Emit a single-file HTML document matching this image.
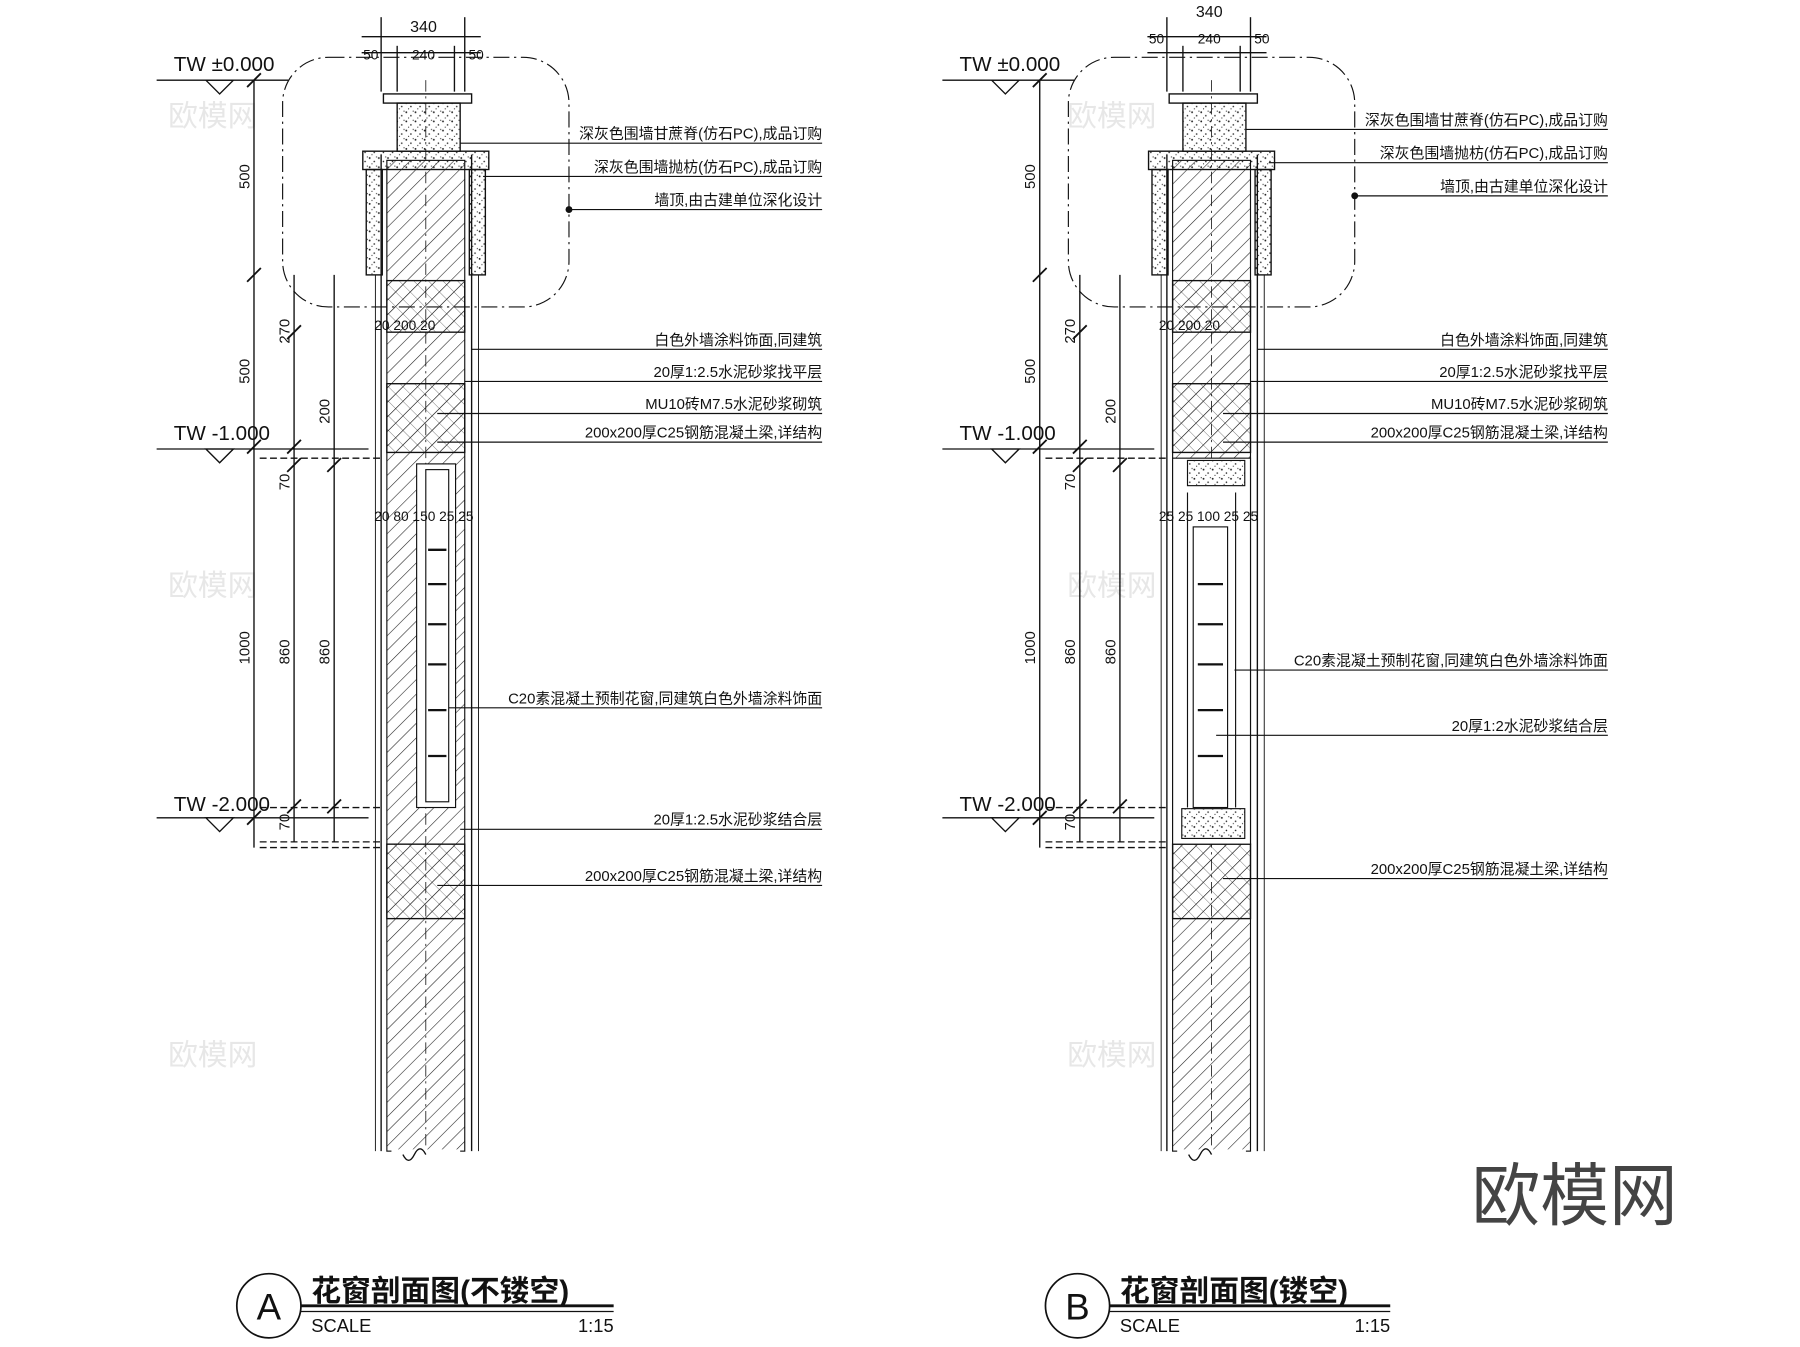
<!DOCTYPE html>
<html><head><meta charset="utf-8"><style>
html,body{margin:0;padding:0;background:#fff;}
svg{display:block;}
text{font-family:"Liberation Sans","Noto Sans CJK SC",sans-serif;fill:#111;}
</style></head><body>
<svg width="1800" height="1347" viewBox="0 0 1568 1176" xmlns="http://www.w3.org/2000/svg">
<defs>
<pattern id="h" width="9" height="9" patternUnits="userSpaceOnUse" patternTransform="rotate(45)"><line x1="0" y1="0" x2="0" y2="9" stroke="#222" stroke-width="1"/></pattern>
<pattern id="x" width="9" height="9" patternUnits="userSpaceOnUse" patternTransform="rotate(45)"><line x1="0" y1="0" x2="0" y2="9" stroke="#222" stroke-width="0.8"/><line x1="0" y1="0" x2="9" y2="0" stroke="#222" stroke-width="0.5"/></pattern>
<pattern id="s" width="8" height="8" patternUnits="userSpaceOnUse"><circle cx="1" cy="2" r="0.8" fill="#222"/><circle cx="5" cy="5" r="0.7" fill="#222"/><circle cx="3" cy="7" r="0.5" fill="#222"/><circle cx="7" cy="1" r="0.5" fill="#222"/></pattern>
<g id="panel" stroke="#111" fill="none" stroke-width="1.2">
 <!-- top dims -->
 <line x1="314" y1="32" x2="418" y2="32"/><line x1="314" y1="46" x2="418" y2="46"/>
 <line x1="331" y1="15" x2="331" y2="80"/><line x1="404" y1="15" x2="404" y2="80"/>
 <line x1="345" y1="40" x2="345" y2="80"/><line x1="395" y1="40" x2="395" y2="80"/>
 <!-- cloud -->
 <rect x="245" y="50" width="250" height="218" rx="40" stroke-dasharray="14,4,2,4" stroke-width="1"/>
 <!-- cap -->
 <rect x="333" y="82" width="77" height="8"/>
 <rect x="345" y="90" width="55" height="42" fill="url(#s)"/>
 <rect x="315" y="132" width="110" height="16" fill="url(#s)"/>
 <rect x="318" y="148" width="14" height="92" fill="url(#s)"/>
 <rect x="408" y="148" width="14" height="92" fill="url(#s)"/>
 <!-- wall -->
 <rect x="336" y="140" width="68" height="865" fill="url(#h)" stroke-width="1"/>
 <line x1="331" y1="135" x2="331" y2="1005"/><line x1="410" y1="135" x2="410" y2="1005"/>
 <line x1="326" y1="240" x2="326" y2="1005" stroke-width="0.8"/><line x1="416" y1="240" x2="416" y2="1005" stroke-width="0.8"/>
 <line x1="370" y1="70" x2="370" y2="1010" stroke-dasharray="10,4,2,4" stroke-width="0.7"/>
 <rect x="336" y="245" width="68" height="45" fill="url(#x)"/>
 <rect x="336" y="335" width="68" height="60" fill="url(#x)"/>
 <rect x="336" y="737" width="68" height="65" fill="url(#x)"/>
 <line x1="340" y1="1005" x2="400" y2="1005" stroke="#fff" stroke-width="3"/>
 <path d="M350 1008 q5 10 10 0 q5-10 10 0" />
 <!-- left dims -->
 <line x1="220" y1="70" x2="220" y2="740"/>
 <line x1="255" y1="240" x2="255" y2="735"/>
 <line x1="290" y1="240" x2="290" y2="735"/>
 <g stroke-width="1.6"><line x1="214" y1="76" x2="226" y2="64"/><line x1="214" y1="246" x2="226" y2="234"/><line x1="214" y1="396" x2="226" y2="384"/><line x1="214" y1="720" x2="226" y2="708"/>
 <line x1="249" y1="296" x2="261" y2="284"/><line x1="249" y1="396" x2="261" y2="384"/><line x1="249" y1="412" x2="261" y2="400"/><line x1="249" y1="710" x2="261" y2="698"/><line x1="284" y1="412" x2="296" y2="400"/><line x1="284" y1="710" x2="296" y2="698"/></g>
 <line x1="135" y1="70" x2="250" y2="70"/><path d="M178 70 l12 12 l12 -12z"/>
 <line x1="135" y1="392" x2="320" y2="392"/><path d="M178 392 l12 12 l12 -12z"/>
 <line x1="135" y1="714" x2="320" y2="714"/><path d="M178 714 l12 12 l12 -12z"/>
 <line x1="225" y1="400" x2="330" y2="400" stroke-dasharray="6,3"/>
 <line x1="225" y1="735" x2="330" y2="735" stroke-dasharray="6,3"/>
 <line x1="225" y1="740" x2="330" y2="740" stroke-dasharray="6,3"/>
 <line x1="225" y1="705" x2="330" y2="705" stroke-dasharray="6,3"/>
</g>
</defs>
<rect width="1568" height="1176" fill="#fff"/>
<g font-size="13" fill="#ccc" opacity="0.35">
<text x="145" y="110" font-size="26" style="fill:#bbb">欧模网</text><text x="930" y="110" font-size="26" style="fill:#bbb">欧模网</text>
<text x="145" y="520" font-size="26" style="fill:#bbb">欧模网</text><text x="930" y="520" font-size="26" style="fill:#bbb">欧模网</text>
<text x="145" y="930" font-size="26" style="fill:#bbb">欧模网</text><text x="930" y="930" font-size="26" style="fill:#bbb">欧模网</text>
</g>
<text x="1283" y="1065" font-size="60" style="fill:#444">欧模网</text>

<use href="#panel"/>
<use href="#panel" x="686"/>
<!-- A window -->
<g stroke="#111" fill="none" stroke-width="1">
<rect x="362" y="405" width="34" height="300" fill="#fff"/><rect x="370" y="410" width="20" height="290" fill="#fff"/>
<g stroke-width="2"><line x1="372" y1="480" x2="388" y2="480"/><line x1="372" y1="510" x2="388" y2="510"/><line x1="372" y1="545" x2="388" y2="545"/><line x1="372" y1="580" x2="388" y2="580"/><line x1="372" y1="620" x2="388" y2="620"/><line x1="372" y1="660" x2="388" y2="660"/></g>
<!-- B window -->
<rect x="1022" y="400" width="68" height="337" fill="#fff"/>
<rect x="1035" y="402" width="50" height="22" fill="url(#s)"/><rect x="1030" y="706" width="55" height="26" fill="url(#s)"/>
<rect x="1040" y="460" width="30" height="245"/><line x1="1035" y1="430" x2="1035" y2="705"/><line x1="1077" y1="430" x2="1077" y2="705"/>
<g stroke-width="2"><line x1="1044" y1="510" x2="1066" y2="510"/><line x1="1044" y1="545" x2="1066" y2="545"/><line x1="1044" y1="580" x2="1066" y2="580"/><line x1="1044" y1="620" x2="1066" y2="620"/><line x1="1044" y1="660" x2="1066" y2="660"/></g>
</g>

<g font-size="14">
<text x="368" y="28" text-anchor="middle">340</text><text x="1054" y="15" text-anchor="middle">340</text>
<text x="322" y="52" text-anchor="middle" font-size="12">50</text><text x="368" y="52" text-anchor="middle" font-size="12">240</text><text x="414" y="52" text-anchor="middle" font-size="12">50</text>
<text x="1008" y="38" text-anchor="middle" font-size="12">50</text><text x="1054" y="38" text-anchor="middle" font-size="12">240</text><text x="1100" y="38" text-anchor="middle" font-size="12">50</text>
<text x="150" y="62" font-size="18">TW  ±0.000</text><text x="836" y="62" font-size="18">TW  ±0.000</text>
<text x="150" y="384" font-size="18">TW  -1.000</text><text x="836" y="384" font-size="18">TW  -1.000</text>
<text x="150" y="708" font-size="18">TW  -2.000</text><text x="836" y="708" font-size="18">TW  -2.000</text>
<g font-size="13">
<text transform="translate(216,165) rotate(-90)">500</text><text transform="translate(216,335) rotate(-90)">500</text><text transform="translate(216,580) rotate(-90)">1000</text>
<text transform="translate(251,300) rotate(-90)">270</text><text transform="translate(286,370) rotate(-90)">200</text><text transform="translate(251,428) rotate(-90)">70</text>
<text transform="translate(251,580) rotate(-90)">860</text><text transform="translate(286,580) rotate(-90)">860</text><text transform="translate(251,725) rotate(-90)">70</text>
<text transform="translate(902,165) rotate(-90)">500</text><text transform="translate(902,335) rotate(-90)">500</text><text transform="translate(902,580) rotate(-90)">1000</text>
<text transform="translate(937,300) rotate(-90)">270</text><text transform="translate(972,370) rotate(-90)">200</text><text transform="translate(937,428) rotate(-90)">70</text>
<text transform="translate(937,580) rotate(-90)">860</text><text transform="translate(972,580) rotate(-90)">860</text><text transform="translate(937,725) rotate(-90)">70</text>
<text x="325" y="455" font-size="12">20 80 150 25 25</text><text x="1010" y="455" font-size="12">25 25 100 25 25</text>
<text x="325" y="288" font-size="12">20  200  20</text><text x="1010" y="288" font-size="12">20  200  20</text>
</g>
</g>

<g font-size="13" text-anchor="end">
<text x="716" y="121">深灰色围墙甘蔗脊(仿石PC),成品订购</text>
<text x="716" y="150">深灰色围墙抛枋(仿石PC),成品订购</text>
<text x="716" y="179">墙顶,由古建单位深化设计</text>
<text x="716" y="301">白色外墙涂料饰面,同建筑</text>
<text x="716" y="329">20厚1:2.5水泥砂浆找平层</text>
<text x="716" y="357">MU10砖M7.5水泥砂浆砌筑</text>
<text x="716" y="382">200x200厚C25钢筋混凝土梁,详结构</text>
<text x="716" y="614">C20素混凝土预制花窗,同建筑白色外墙涂料饰面</text>
<text x="716" y="720">20厚1:2.5水泥砂浆结合层</text>
<text x="716" y="769">200x200厚C25钢筋混凝土梁,详结构</text>
<text x="1402" y="109">深灰色围墙甘蔗脊(仿石PC),成品订购</text>
<text x="1402" y="138">深灰色围墙抛枋(仿石PC),成品订购</text>
<text x="1402" y="167">墙顶,由古建单位深化设计</text>
<text x="1402" y="301">白色外墙涂料饰面,同建筑</text>
<text x="1402" y="329">20厚1:2.5水泥砂浆找平层</text>
<text x="1402" y="357">MU10砖M7.5水泥砂浆砌筑</text>
<text x="1402" y="382">200x200厚C25钢筋混凝土梁,详结构</text>
<text x="1402" y="581">C20素混凝土预制花窗,同建筑白色外墙涂料饰面</text>
<text x="1402" y="638">20厚1:2水泥砂浆结合层</text>
<text x="1402" y="763">200x200厚C25钢筋混凝土梁,详结构</text>
</g>
<g stroke="#111" stroke-width="1">
<line x1="400" y1="125" x2="716" y2="125"/><line x1="420" y1="154" x2="716" y2="154"/><line x1="495" y1="183" x2="716" y2="183"/>
<line x1="410" y1="305" x2="716" y2="305"/><line x1="404" y1="333" x2="716" y2="333"/><line x1="380" y1="361" x2="716" y2="361"/><line x1="380" y1="386" x2="716" y2="386"/>
<line x1="390" y1="618" x2="716" y2="618"/><line x1="400" y1="724" x2="716" y2="724"/><line x1="380" y1="773" x2="716" y2="773"/>
<line x1="1086" y1="113" x2="1402" y2="113"/><line x1="1106" y1="142" x2="1402" y2="142"/><line x1="1181" y1="171" x2="1402" y2="171"/>
<line x1="1096" y1="305" x2="1402" y2="305"/><line x1="1090" y1="333" x2="1402" y2="333"/><line x1="1066" y1="361" x2="1402" y2="361"/><line x1="1066" y1="386" x2="1402" y2="386"/>
<line x1="1076" y1="585" x2="1402" y2="585"/><line x1="1060" y1="642" x2="1402" y2="642"/><line x1="1066" y1="767" x2="1402" y2="767"/>
</g>
<g fill="#111"><circle cx="495" cy="183" r="3"/><circle cx="1181" cy="171" r="3"/></g>

<g stroke="#111" fill="none" stroke-width="1.5">
<circle cx="233" cy="1140" r="28"/><circle cx="939" cy="1140" r="28"/>
<line x1="261" y1="1140" x2="534" y2="1140" stroke-width="2.5"/><line x1="261" y1="1145" x2="534" y2="1145" stroke-width="1"/>
<line x1="967" y1="1140" x2="1212" y2="1140" stroke-width="2.5"/><line x1="967" y1="1145" x2="1212" y2="1145" stroke-width="1"/>
</g>
<text x="233" y="1152" font-size="32" text-anchor="middle">A</text><text x="939" y="1152" font-size="32" text-anchor="middle">B</text>
<text x="270" y="1136" font-size="26" font-weight="bold">花窗剖面图(不镂空)</text>
<text x="976" y="1136" font-size="26" font-weight="bold">花窗剖面图(镂空)</text>
<text x="270" y="1163" font-size="16">SCALE</text><text x="534" y="1163" font-size="16" text-anchor="end">1:15</text>
<text x="976" y="1163" font-size="16">SCALE</text><text x="1212" y="1163" font-size="16" text-anchor="end">1:15</text>
</svg>
</body></html>
